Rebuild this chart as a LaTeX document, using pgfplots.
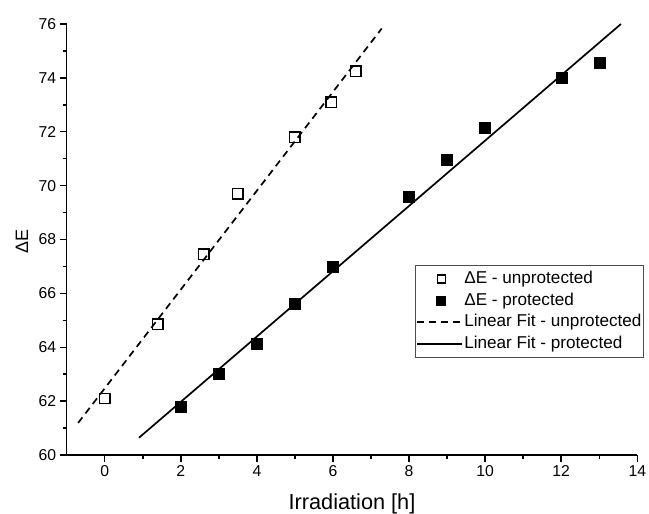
\documentclass[border=0pt]{standalone}
\usepackage{pgfplots}
\pgfplotsset{compat=1.18}
\usepackage{fontspec}
\setmainfont{Liberation Sans}
\pgfplotsset{
  markleg/.style={legend image code/.code={\draw[##1, mark size=#1] plot coordinates {(22bp,0bp)};}},
  lineleg/.style={legend image code/.code={\draw[##1] (-2bp,0bp) -- (43bp,0bp);}},
}
\begin{document}
\begin{tikzpicture}
\useasboundingbox (-66.7bp,-59bp) rectangle (582.3bp,455bp);
\begin{axis}[
  scale only axis, width=570.6bp, height=431bp,
  xmin=-1, xmax=14, ymin=60, ymax=76,
  axis x line*=bottom, axis y line*=left,
  axis line style={line width=1.5bp, -},
  xtick={0,2,...,14}, ytick={60,62,...,76},
  minor x tick num=1, minor y tick num=1,
  tick align=outside, major tick length=7bp, minor tick length=4bp,
  every tick/.style={black, line width=1.5bp},
  tick label style={font=\fontsize{15.8}{18}\selectfont},
  /pgf/number format/assume math mode=true,
  xlabel={Irradiation [h]},
  ylabel={ΔE},
  x label style={at={(rel axis cs:0.5,-0.1276)}, anchor=base, font=\fontsize{21.8}{25}\selectfont},
  y label style={at={(rel axis cs:-0.0678,0.495)}, anchor=base, font=\fontsize{18}{21}\selectfont},
  legend cell align=left,
  legend style={at={(rel axis cs:0.6105,0.4408)}, anchor=north west,
    draw=black!70, line width=0.7bp,
    font=\fontsize{17.2}{20}\selectfont,
    inner xsep=1bp, inner ysep=5bp,
    nodes={inner ysep=0pt, inner xsep=1.2bp, text height=13bp, text depth=4bp},
    row sep=4.7bp},
]
\addplot[only marks, mark=square, mark size=5.2bp, mark options={line width=1.4bp, fill=white}, markleg=4bp]
  coordinates {(0,62.1) (1.4,64.85) (2.6,67.45) (3.5,69.7) (5.0,71.8) (5.95,73.1) (6.6,74.25)};
\addlegendentry{ΔE - unprotected}
\addplot[only marks, mark=square*, mark size=5.5bp, black, markleg=4.5bp]
  coordinates {(2,61.8) (3,63.0) (4,64.15) (5,65.6) (6,67.0) (8,69.6) (9,70.95) (10,72.15) (12,74.0) (13,74.55)};
\addlegendentry{ΔE - protected}
\addplot[black, line width=1.7bp, dash pattern=on 7bp off 5bp, lineleg]
  coordinates {(-0.7,61.19) (7.28,75.83)};
\addlegendentry{Linear Fit - unprotected}
\addplot[black, line width=1.7bp, lineleg]
  coordinates {(0.9,60.64) (13.57,76.0)};
\addlegendentry{Linear Fit - protected}
\end{axis}
\end{tikzpicture}
\end{document}
